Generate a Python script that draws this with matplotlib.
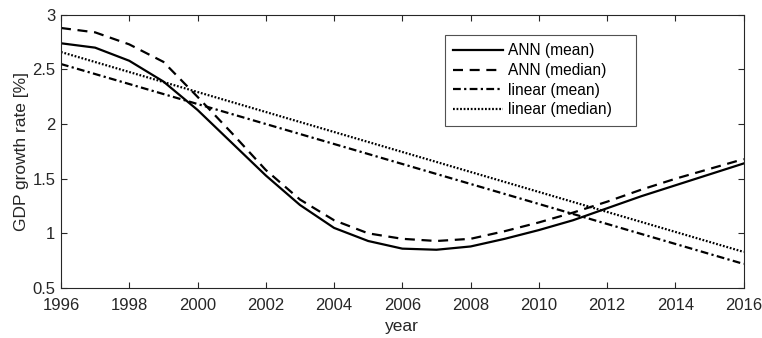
import matplotlib
matplotlib.use("Agg")
import matplotlib.pyplot as plt
import numpy as np

years = list(range(1996, 2017))
ann_mean = [2.74, 2.70, 2.58, 2.39, 2.13, 1.83, 1.53, 1.26, 1.05, 0.93, 0.86,
            0.85, 0.88, 0.95, 1.03, 1.12, 1.23, 1.34, 1.44, 1.54, 1.64]
ann_median = [2.88, 2.84, 2.73, 2.57, 2.25, 1.92, 1.58, 1.31, 1.12, 1.00, 0.95,
              0.93, 0.95, 1.02, 1.10, 1.19, 1.29, 1.40, 1.50, 1.59, 1.68]
lin_years = [1996, 2016]
lin_mean = [2.55, 0.72]
lin_median = [2.66, 0.83]

xticks = list(range(1996, 2017, 2))
yticks = [0.5, 1, 1.5, 2, 2.5, 3]
ytick_labels = ["0.5", "1", "1.5", "2", "2.5", "3"]

plt.rcParams['font.family'] = ['Liberation Sans', 'DejaVu Sans']
gray = '#262626'

fig = plt.figure(figsize=(7.62, 3.38), dpi=100)
ax = fig.add_axes([0.080, 0.148, 0.896, 0.808])

lw = 1.6
ax.plot(years, ann_mean, color='black', lw=lw, ls='-', label='ANN (mean)')
ax.plot(years, ann_median, color='black', lw=lw, ls=(0, (4.5, 3)), label='ANN (median)')
ax.plot(lin_years, lin_mean, color='black', lw=lw, ls=(0, (3.5, 1.5, 1, 1.5)), label='linear (mean)')
ax.plot(lin_years, lin_median, color='black', lw=lw, ls=(0, (0.8, 0.8)), label='linear (median)')

ax.set_xlim(1996, 2016)
ax.set_ylim(0.5, 3)
ax.set_xticks(xticks)
ax.set_yticks(yticks)
ax.set_yticklabels(ytick_labels)
ax.tick_params(direction='in', top=True, right=True, length=4.5, width=0.8,
               labelsize=12, colors=gray, labelcolor=gray)
ax.tick_params(axis='x', pad=7.5)
ax.tick_params(axis='y', pad=4)
for s in ax.spines.values():
    s.set_color(gray)
    s.set_linewidth(0.8)
ax.set_xlabel('year', fontsize=12.5, color=gray, labelpad=4)
ax.set_ylabel('GDP growth rate [%]', fontsize=12.5, color=gray, labelpad=2.5)

leg = ax.legend(loc='upper left', bbox_to_anchor=(0.562, 0.5, 0.280, 0.427),
                mode='expand', fontsize=11.2,
                frameon=True, fancybox=False, handlelength=3.2, handletextpad=0.33,
                labelspacing=0.3, borderpad=0.55, borderaxespad=0)
leg.get_frame().set_edgecolor(gray)
leg.get_frame().set_linewidth(0.8)
for t in leg.get_texts():
    t.set_color('black')

fig.savefig('out.png', dpi=100)
